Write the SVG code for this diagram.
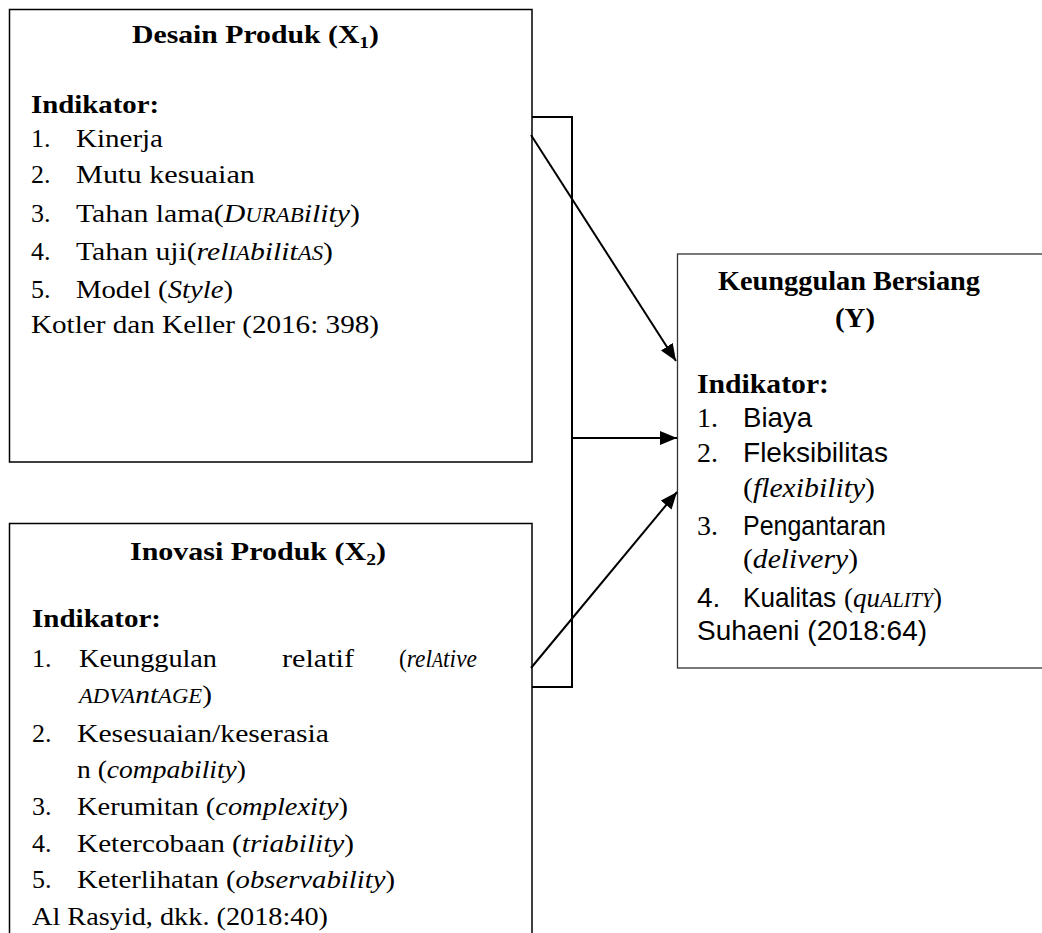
<svg xmlns="http://www.w3.org/2000/svg" width="1042" height="933" viewBox="0 0 1042 933">
<style>
.box{fill:#fff;stroke:#000;stroke-width:1.5}
.boxy{fill:#fff;stroke:#333;stroke-width:1.3}
.s{font-family:"Liberation Serif","Times New Roman",serif;font-size:26px;fill:#000}
.b{font-weight:bold}
.i{font-style:italic}
.sc{font-size:20px}
.ty{font-family:"Liberation Serif","Times New Roman",serif;font-size:28px;fill:#000}
.a{font-family:"Liberation Sans",Arial,sans-serif;font-size:28px;fill:#000}
.c{fill:none;stroke:#000;stroke-width:2}
</style>
<defs>
<marker id="ah" markerUnits="userSpaceOnUse" markerWidth="18" markerHeight="14" refX="17" refY="7" orient="auto">
<path d="M0,0 L17,7 L0,14 z" fill="#000"/>
</marker>
</defs>
<rect width="1042" height="933" fill="#fff"/>

<g id="node-x1">
<rect class="box" x="9.5" y="9.5" width="522.5" height="452.5"/>
<text class="s b" x="132" y="43" textLength="247" lengthAdjust="spacingAndGlyphs">Desain Produk (X<tspan font-size="17" dy="5">1</tspan><tspan dy="-5">)</tspan></text>
<text class="s b" x="31" y="113" textLength="128" lengthAdjust="spacingAndGlyphs">Indikator:</text>
<text class="s" x="31" y="147">1.</text>
<text class="s" x="76" y="147" textLength="87" lengthAdjust="spacingAndGlyphs">Kinerja</text>
<text class="s" x="31" y="183">2.</text>
<text class="s" x="76" y="183" textLength="179" lengthAdjust="spacingAndGlyphs">Mutu kesuaian</text>
<text class="s" x="31" y="222">3.</text>
<text class="s" x="76" y="222" textLength="284" lengthAdjust="spacingAndGlyphs">Tahan lama(<tspan class="i">D<tspan class="sc">URAB</tspan>ility</tspan>)</text>
<text class="s" x="31" y="260">4.</text>
<text class="s" x="76" y="260" textLength="257" lengthAdjust="spacingAndGlyphs">Tahan uji(<tspan class="i">rel<tspan class="sc">IA</tspan>bilit<tspan class="sc">AS</tspan></tspan>)</text>
<text class="s" x="31" y="298">5.</text>
<text class="s" x="76" y="298" textLength="157" lengthAdjust="spacingAndGlyphs">Model (<tspan class="i">Style</tspan>)</text>
<text class="s" x="31" y="333" textLength="348" lengthAdjust="spacingAndGlyphs">Kotler dan Keller (2016: 398)</text>
</g>

<g id="node-x2">
<rect class="box" x="9.5" y="523.5" width="522.5" height="420"/>
<text class="s b" x="130" y="560" textLength="256" lengthAdjust="spacingAndGlyphs">Inovasi Produk (X<tspan font-size="17" dy="5">2</tspan><tspan dy="-5">)</tspan></text>
<text class="s b" x="32" y="627" textLength="129" lengthAdjust="spacingAndGlyphs">Indikator:</text>
<text class="s" x="32" y="667">1.</text>
<text class="s" x="79" y="667" textLength="138" lengthAdjust="spacingAndGlyphs">Keunggulan</text>
<text class="s" x="282" y="667" textLength="72" lengthAdjust="spacingAndGlyphs">relatif</text>
<text class="s" x="399" y="667" textLength="78" lengthAdjust="spacingAndGlyphs">(<tspan class="i">rel<tspan class="sc">A</tspan>tive</tspan></text>
<text class="s" x="79" y="703" textLength="133" lengthAdjust="spacingAndGlyphs"><tspan class="i"><tspan class="sc">ADVA</tspan>nt<tspan class="sc">AGE</tspan></tspan>)</text>
<text class="s" x="32" y="742">2.</text>
<text class="s" x="77" y="742" textLength="252" lengthAdjust="spacingAndGlyphs">Kesesuaian/keserasia</text>
<text class="s" x="77" y="778" textLength="169" lengthAdjust="spacingAndGlyphs">n (<tspan class="i">compability</tspan>)</text>
<text class="s" x="32" y="815">3.</text>
<text class="s" x="77" y="815" textLength="271" lengthAdjust="spacingAndGlyphs">Kerumitan (<tspan class="i">complexity</tspan>)</text>
<text class="s" x="32" y="852">4.</text>
<text class="s" x="77" y="852" textLength="277" lengthAdjust="spacingAndGlyphs">Ketercobaan (<tspan class="i">triability</tspan>)</text>
<text class="s" x="32" y="888">5.</text>
<text class="s" x="77" y="888" textLength="318" lengthAdjust="spacingAndGlyphs">Keterlihatan (<tspan class="i">observability</tspan>)</text>
<text class="s" x="32" y="925" textLength="296" lengthAdjust="spacingAndGlyphs">Al Rasyid, dkk. (2018:40)</text>
</g>

<g id="node-y">
<rect class="boxy" x="677.5" y="254" width="380" height="414"/>
<text class="ty b" x="718" y="290" textLength="262" lengthAdjust="spacingAndGlyphs">Keunggulan Bersiang</text>
<text class="ty b" x="835" y="327" textLength="40" lengthAdjust="spacingAndGlyphs">(Y)</text>
<text class="ty b" x="697" y="393" textLength="132" lengthAdjust="spacingAndGlyphs">Indikator:</text>
<text class="ty" x="697" y="427">1.</text>
<text class="a" x="743" y="427" textLength="69" lengthAdjust="spacingAndGlyphs">Biaya</text>
<text class="ty" x="697" y="462">2.</text>
<text class="a" x="743" y="462" textLength="145" lengthAdjust="spacingAndGlyphs">Fleksibilitas</text>
<text class="ty" x="743" y="497" textLength="132" lengthAdjust="spacingAndGlyphs">(<tspan class="i">flexibility</tspan>)</text>
<text class="ty" x="697" y="535">3.</text>
<text class="a" x="743" y="535" textLength="143" lengthAdjust="spacingAndGlyphs">Pengantaran</text>
<text class="ty" x="743" y="568" textLength="115" lengthAdjust="spacingAndGlyphs">(<tspan class="i">delivery</tspan>)</text>
<text class="a" x="697" y="607">4.</text>
<text class="a" x="743" y="607" textLength="93" lengthAdjust="spacingAndGlyphs">Kualitas</text>
<text class="ty" x="844" y="607" textLength="98" lengthAdjust="spacingAndGlyphs">(<tspan class="i">qu<tspan font-size="21">ALITY</tspan></tspan>)</text>
<text class="a" x="697" y="640" textLength="230" lengthAdjust="spacingAndGlyphs">Suhaeni (2018:64)</text>
</g>

<g id="connectors">
<path class="c" d="M532,117 H572 V687 H532"/>
<line class="c" x1="531" y1="135" x2="676" y2="361" marker-end="url(#ah)"/>
<line class="c" x1="572" y1="438" x2="677" y2="438" marker-end="url(#ah)"/>
<line class="c" x1="531" y1="668" x2="677" y2="492" marker-end="url(#ah)"/>
</g>
</svg>
